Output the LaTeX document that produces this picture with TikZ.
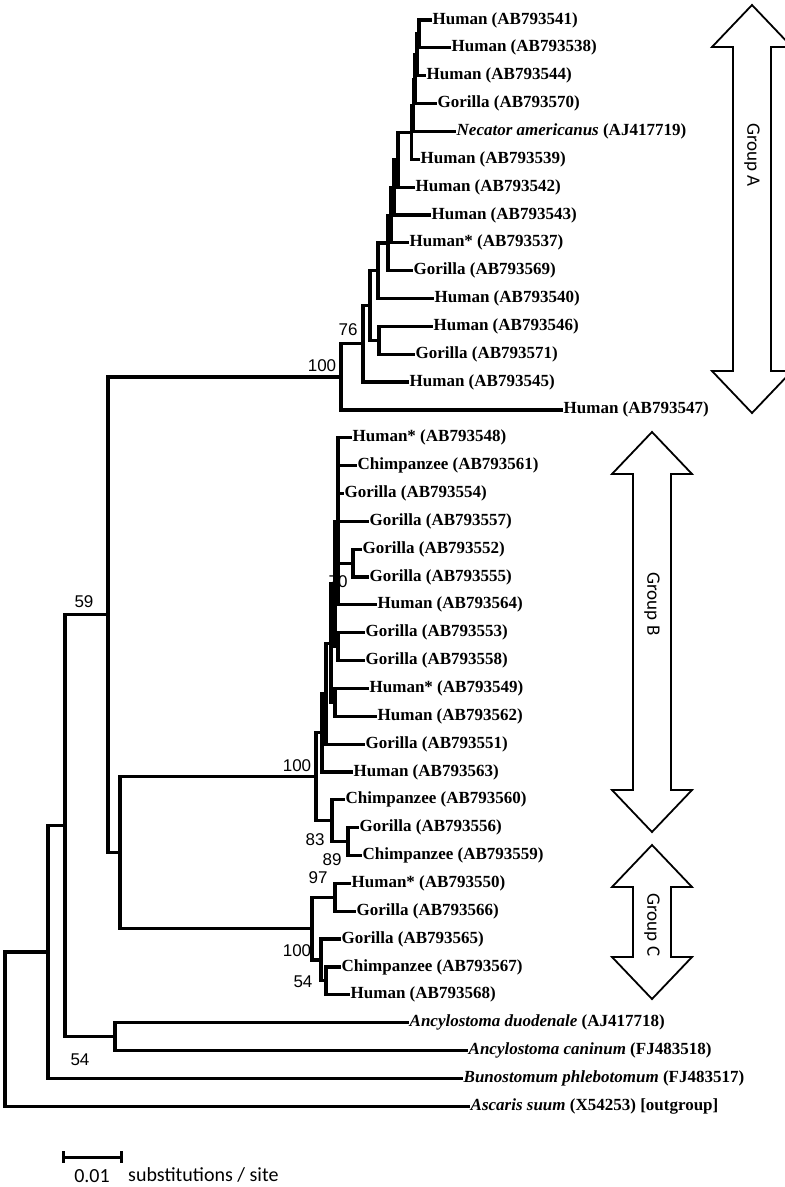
\documentclass[tikz,border=0pt]{standalone}
\usepackage{fontspec}
\setmainfont{Liberation Serif}
\newfontfamily\bootfont{Liberation Sans}
\newfontfamily\labfont{Carlito}
\usetikzlibrary{calc}

% double headed group arrow: centre x, top tip, bottom tip
\newcommand{\grparrow}[3]{%
  \draw[grparrow] (#1,#2) -- (#1+40,#2+42) -- (#1+19,#2+42) -- (#1+19,#3-42)
    -- (#1+40,#3-42) -- (#1,#3) -- (#1-40,#3-42) -- (#1-19,#3-42)
    -- (#1-19,#2+42) -- (#1-40,#2+42) -- cycle;}

\begin{document}
\begin{tikzpicture}[x=1pt,y=-1pt,
  br/.style={line width=3.2pt,line cap=rect,line join=miter},
  leaf/.style={anchor=west,inner sep=2.5pt,font=\fontsize{17}{18}\selectfont\bfseries},
  boot/.style={inner sep=0pt,font=\bootfont\fontsize{17}{18}\selectfont},
  grparrow/.style={draw,line width=1.8pt,line join=miter,fill=white},
  grplabel/.style={rotate=-90,inner sep=0pt,font=\labfont\fontsize{19}{20}\selectfont}]
\useasboundingbox (0,0) rectangle (785,1187);

% leaves, group A
\node[leaf] (l541) at (430,20.0) {Human (AB793541)};
\node[leaf] (l538) at (449,47.85) {Human (AB793538)};
\node[leaf] (l544) at (424,75.7) {Human (AB793544)};
\node[leaf] (l570) at (435,103.55) {Gorilla (AB793570)};
\node[leaf] (lnec) at (454,131.4) {\textit{Necator americanus} (AJ417719)};
\node[leaf] (l539) at (418,159.25) {Human (AB793539)};
\node[leaf] (l542) at (413,187.1) {Human (AB793542)};
\node[leaf] (l543) at (429,214.95) {Human (AB793543)};
\node[leaf] (l537) at (407,242.8) {Human* (AB793537)};
\node[leaf] (l569) at (411,270.65) {Gorilla (AB793569)};
\node[leaf] (l540) at (432,298.5) {Human (AB793540)};
\node[leaf] (l546) at (431,326.35) {Human (AB793546)};
\node[leaf] (l571) at (413,354.2) {Gorilla (AB793571)};
\node[leaf] (l545) at (407,382.05) {Human (AB793545)};
\node[leaf] (l547) at (561,409.9) {Human (AB793547)};
% leaves, group B
\node[leaf] (l548) at (350,437.75) {Human* (AB793548)};
\node[leaf] (l561) at (355,465.6) {Chimpanzee (AB793561)};
\node[leaf] (l554) at (342,493.45) {Gorilla (AB793554)};
\node[leaf] (l557) at (367,521.3) {Gorilla (AB793557)};
\node[leaf] (l552) at (360,549.15) {Gorilla (AB793552)};
\node[leaf] (l555) at (367,577.0) {Gorilla (AB793555)};
\node[leaf] (l564) at (375,604.85) {Human (AB793564)};
\node[leaf] (l553) at (363,632.7) {Gorilla (AB793553)};
\node[leaf] (l558) at (363,660.55) {Gorilla (AB793558)};
\node[leaf] (l549) at (367,688.4) {Human* (AB793549)};
\node[leaf] (l562) at (375,716.25) {Human (AB793562)};
\node[leaf] (l551) at (363,744.1) {Gorilla (AB793551)};
\node[leaf] (l563) at (351,771.95) {Human (AB793563)};
\node[leaf] (l560) at (343,799.8) {Chimpanzee (AB793560)};
\node[leaf] (l556) at (357,827.65) {Gorilla (AB793556)};
\node[leaf] (l559) at (360,855.5) {Chimpanzee (AB793559)};
% leaves, group C
\node[leaf] (l550) at (349,883.35) {Human* (AB793550)};
\node[leaf] (l566) at (354,911.2) {Gorilla (AB793566)};
\node[leaf] (l565) at (339,939.05) {Gorilla (AB793565)};
\node[leaf] (l567) at (339,966.9) {Chimpanzee (AB793567)};
\node[leaf] (l568) at (348,994.75) {Human (AB793568)};
% other species
\node[leaf] (ldu) at (407,1022.6) {\textit{Ancylostoma duodenale} (AJ417718)};
\node[leaf] (lca) at (466,1050.45) {\textit{Ancylostoma caninum} (FJ483518)};
\node[leaf] (lbu) at (461,1078.3) {\textit{Bunostomum phlebotomum} (FJ483517)};
\node[leaf] (las) at (468,1106.15) {\textit{Ascaris suum} (X54253) [outgroup]};

% internal nodes
\coordinate (a1) at (419,33.9);
\coordinate (a2) at (417,54.8);
\coordinate (a3) at (415,79.2);
\coordinate (a4) at (413.5,105.3);
\coordinate (a5) at (411.5,132.3);
\coordinate (a6) at (398,159.7);
\coordinate (a7) at (394,187.3);
\coordinate (a8a) at (391,215.1);
\coordinate (a8) at (388,242.9);
\coordinate (a9) at (378,270.7);
\coordinate (a11) at (379,340.3);
\coordinate (a10) at (370,305.5);
\coordinate (a12) at (363,343.8);
\coordinate (gA) at (341,376.9);
\coordinate (b70) at (353,563.1);
\coordinate (b1) at (338,521.3);
\coordinate (bx) at (338,646.6);
\coordinate (b2) at (335,584);
\coordinate (by) at (335,702.3);
\coordinate (b3) at (331,643.2);
\coordinate (b4) at (326,693.6);
\coordinate (b5) at (322,732.8);
\coordinate (b89) at (348,841.6);
\coordinate (b83) at (332,820.7);
\coordinate (gB) at (316,776.8);
\coordinate (b97) at (335,897.3);
\coordinate (c54) at (326,980.8);
\coordinate (c2) at (321,959.9);
\coordinate (gC) at (312,928.6);
\coordinate (bc) at (120,852.7);
\coordinate (n59) at (108,614.8);
\coordinate (anc) at (115,1036.5);
\coordinate (n65) at (65,825.7);
\coordinate (n48) at (48,952.0);
\coordinate (root) at (5,1029.2);

% branches
\draw[br] (a1) |- (l541.west) (a1) |- (l538.west);
\draw[br] (a2) |- (a1) (a2) |- (l544.west);
\draw[br] (a3) |- (a2) (a3) |- (l570.west);
\draw[br] (a4) |- (a3) (a4) |- (lnec.west);
\draw[br] (a5) |- (a4) (a5) |- (l539.west);
\draw[br] (a6) |- (a5) (a6) |- (l542.west);
\draw[br] (a7) |- (a6) (a7) |- (l543.west);
\draw[br] (a8a) |- (a7) (a8a) |- (l537.west);
\draw[br] (a8) |- (a8a) (a8) |- (l569.west);
\draw[br] (a9) |- (a8) (a9) |- (l540.west);
\draw[br] (a11) |- (l546.west) (a11) |- (l571.west);
\draw[br] (a10) |- (a9) (a10) |- (a11);
\draw[br] (a12) |- (a10) (a12) |- (l545.west);
\draw[br] (gA) |- (a12) (gA) |- (l547.west);

\draw[br] (b70) |- (l552.west) (b70) |- (l555.west);
\draw[br] (b1) |- (l548.west) (b1) |- (l564.west) (b1) |- (l561.west)
  (b1) |- (l554.west) (b1) |- (l557.west) (b1) |- (b70);
\draw[br] (bx) |- (l553.west) (bx) |- (l558.west);
\draw[br] (b2) |- (b1) (b2) |- (bx);
\draw[br] (by) |- (l549.west) (by) |- (l562.west);
\draw[br] (b3) |- (b2) (b3) |- (by);
\draw[br] (b4) |- (b3) (b4) |- (l551.west);
\draw[br] (b5) |- (b4) (b5) |- (l563.west);
\draw[br] (b89) |- (l556.west) (b89) |- (l559.west);
\draw[br] (b83) |- (l560.west) (b83) |- (b89);
\draw[br] (gB) |- (b5) (gB) |- (b83);

\draw[br] (b97) |- (l550.west) (b97) |- (l566.west);
\draw[br] (c54) |- (l567.west) (c54) |- (l568.west);
\draw[br] (c2) |- (l565.west) (c2) |- (c54);
\draw[br] (gC) |- (b97) (gC) |- (c2);
\draw[br] (bc) |- (gB) (bc) |- (gC);
\draw[br] (n59) |- (gA) (n59) |- (bc);
\draw[br] (anc) |- (ldu.west) (anc) |- (lca.west);
\draw[br] (n65) |- (n59) (n65) |- (anc);
\draw[br] (n48) |- (n65) (n48) |- (lbu.west);
\draw[br] (root) |- (n48) (root) |- (las.west);

% bootstrap values
\node[boot] (bs100a) at (322,366) {100};
\node[boot] (bs76) at (348,330) {76};
\node[boot] (bs59) at (84,602) {59};
\node[boot] (bs70) at (338,582) {70};
\node[boot] (bs100b) at (297,766) {100};
\node[boot] (bs83) at (315,840) {83};
\node[boot] (bs89) at (332,860) {89};
\node[boot] (bs97) at (318,878) {97};
\node[boot] (bs100c) at (297,951) {100};
\node[boot] (bs54c) at (303,982) {54};
\node[boot] (bs54a) at (80,1060) {54};

% groups
\grparrow{752}{5}{413}
\grparrow{652}{432}{832}
\grparrow{652}{845}{999}
\node[grplabel] (grpA) at (752,155) {Group A};
\node[grplabel] (grpB) at (652,604) {Group B};
\node[grplabel] (grpC) at (652,925) {Group C};

% scale bar
\coordinate (sb1) at (63,1157);
\coordinate (sb2) at (121,1157);
\draw[line width=3pt] (sb1) -- (sb2);
\draw[line width=3pt] ($(sb1)+(0,-6)$) -- ($(sb1)+(0,6)$);
\draw[line width=3pt] ($(sb2)+(0,-6)$) -- ($(sb2)+(0,6)$);
\node[font=\labfont\fontsize{20}{21}\selectfont,inner sep=0pt] (sbval) at (92,1176) {0.01};
\node[font=\labfont\fontsize{20}{21}\selectfont,inner sep=0pt,anchor=west] (sbtxt) at (128,1175) {substitutions / site};
\end{tikzpicture}
\end{document}
